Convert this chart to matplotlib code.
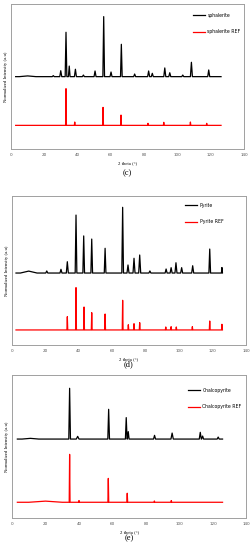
import matplotlib
matplotlib.use("Agg")
import matplotlib.pyplot as plt

# --- data (2 theta in degrees, intensity in % of axis height) ---
# (c) sphalerite
sph_pos = [10, 25.4, 29.9, 33.05, 35.0, 38.7, 43.5, 50.5, 55.7, 60.1, 66.3, 74.3, 82.7, 84.9, 92.4, 95.4, 103.2, 108.4, 118.8]
sph_top = [50.4, 50.6, 54.0, 80.5, 57.2, 55.0, 51.0, 53.8, 91.3, 53.1, 72.2, 51.7, 53.8, 52.2, 55.9, 52.6, 51.0, 59.8, 54.5]
sph_hw = [5, 0.6, 0.6, 0.5, 0.5, 0.6, 0.6, 0.6, 0.5, 0.6, 0.5, 0.6, 0.6, 0.6, 0.6, 0.6, 0.6, 0.6, 0.6]
sph_ref_pos = [33.05, 38.3, 55.3, 66.1, 82.3, 91.8, 107.8, 117.6]
sph_ref_top = [41.6, 18.6, 28.7, 23.4, 17.7, 18.4, 18.6, 17.7]

# (d) pyrite
pyr_pos = [10, 20.8, 29.3, 33.1, 38.3, 42.9, 47.7, 55.7, 66.2, 69.4, 73.0, 76.4, 82.5, 92.2, 95.2, 98.1, 101.5, 108.1, 118.3, 125.6]
pyr_top = [49.6, 49.7, 50.8, 55.9, 87.2, 73.2, 71.1, 64.9, 92.4, 53.7, 58.2, 60.4, 49.7, 51.0, 51.9, 55.2, 51.9, 53.2, 64.4, 52.0]
pyr_hw = [5, 0.6, 0.6, 0.6, 0.5, 0.5, 0.5, 0.5, 0.5, 0.6, 0.6, 0.6, 0.6, 0.6, 0.6, 0.6, 0.6, 0.6, 0.5, 0.3]
pyr_ref_pos = [33.1, 38.3, 43.1, 47.7, 55.7, 66.2, 69.6, 73.0, 76.4, 92.0, 95.2, 98.3, 107.9, 118.3, 125.6]
pyr_ref_top = [19.0, 38.5, 25.5, 21.7, 20.8, 30.0, 13.6, 14.3, 15.0, 12.1, 12.3, 12.1, 12.3, 16.1, 13.9]

# (e) chalcopyrite
cha_pos = [11, 34.4, 39.2, 57.7, 68.2, 69.4, 85.1, 95.6, 112.4, 113.8, 123.1]
cha_top = [55.7, 90.7, 57.1, 76.0, 70.2, 60.4, 57.8, 59.4, 59.9, 57.3, 56.6]
cha_hw = [5, 0.5, 0.8, 0.5, 0.5, 0.5, 0.6, 0.7, 0.6, 0.6, 0.6]
cha_ref_pos = [20, 34.4, 40.0, 57.5, 68.8, 85.0, 95.1]
cha_ref_top = [11.8, 44.5, 12.2, 27.7, 17.3, 11.9, 12.2]
cha_ref_hw = [10, 0.25, 0.25, 0.25, 0.25, 0.25, 0.25]

xticks = [0, 20, 40, 60, 80, 100, 120, 140]


def pattern(x0, x1, base, pos, top, hw):
    # baseline with a triangle for every peak
    xs = [x0]
    ys = [base]
    for p, t, w in sorted(zip(pos, top, hw)):
        xs += [p - w, p, p + w]
        ys += [base, t, base]
    xs.append(x1)
    ys.append(base)
    return xs, ys


W, H = 253, 550
fig = plt.figure(figsize=(W / 100, H / 100), dpi=100)

serif = ["Liberation Serif", "DejaVu Serif"]

panels = [
    # name, pos/top/hw, ref pos/top/hw, bases, x-range, axes px box, legend anchor, letter
    ("sphalerite", (sph_pos, sph_top, sph_hw), (sph_ref_pos, sph_ref_top, [0.25] * len(sph_ref_pos)),
     49.9, 16.3, 2.8, 126.2, (11, 4, 244, 149), (0.77, 0.955), "(c)", 173),
    ("Pyrite", (pyr_pos, pyr_top, pyr_hw), (pyr_ref_pos, pyr_ref_top, [0.25] * len(pyr_ref_pos)),
     48.3, 10.1, 2.4, 125.9, (12, 196, 246, 345), (0.73, 0.97), "(d)", 364.5),
    ("Chalcopyrite", (cha_pos, cha_top, cha_hw), (cha_ref_pos, cha_ref_top, cha_ref_hw),
     55.2, 11.0, 3.2, 125.7, (12, 375, 246.5, 518), (0.74, 0.925), "(e)", 538),
]

for name, meas, ref, base, rbase, x0, x1, box, leg, letter, ly in panels:
    l, t, r, b = box
    ax = fig.add_axes([l / W, 1 - b / H, (r - l) / W, (b - t) / H])
    mx, my = pattern(x0, x1, base, *meas)
    rx, ry = pattern(x0, x1, rbase, *ref)
    ax.plot(mx, my, color="black", lw=0.9, label=name)
    ax.plot(rx, ry, color="#ff0000", lw=0.9, label=name + " REF")
    ax.set_xlim(0, 140)
    ax.set_ylim(0, 100)
    ax.set_xticks(xticks)
    ax.set_yticks([])
    ax.tick_params(axis="x", length=0, pad=3, labelsize=3, labelcolor="#555555")
    for s in ax.spines.values():
        s.set_color("#a0a0a0")
        s.set_linewidth(0.7)
    ax.set_ylabel("Normalized Intensity (a.u)", family=serif, fontsize=3.4, labelpad=2)
    ax.legend(loc="upper left", bbox_to_anchor=leg, frameon=False, fontsize=3.3,
              handlelength=2.6, handletextpad=0.6, labelspacing=2.5, borderpad=0)
    cx = (l + r) / 2 / W
    fig.text(cx, 1 - (b + 14) / H, "2 theta (°)", family=serif, fontsize=3.4,
             ha="center", va="center")
    fig.text(cx, 1 - ly / H, letter, family=serif, fontsize=6, ha="center", va="center")

fig.savefig("out.png", dpi=100)
